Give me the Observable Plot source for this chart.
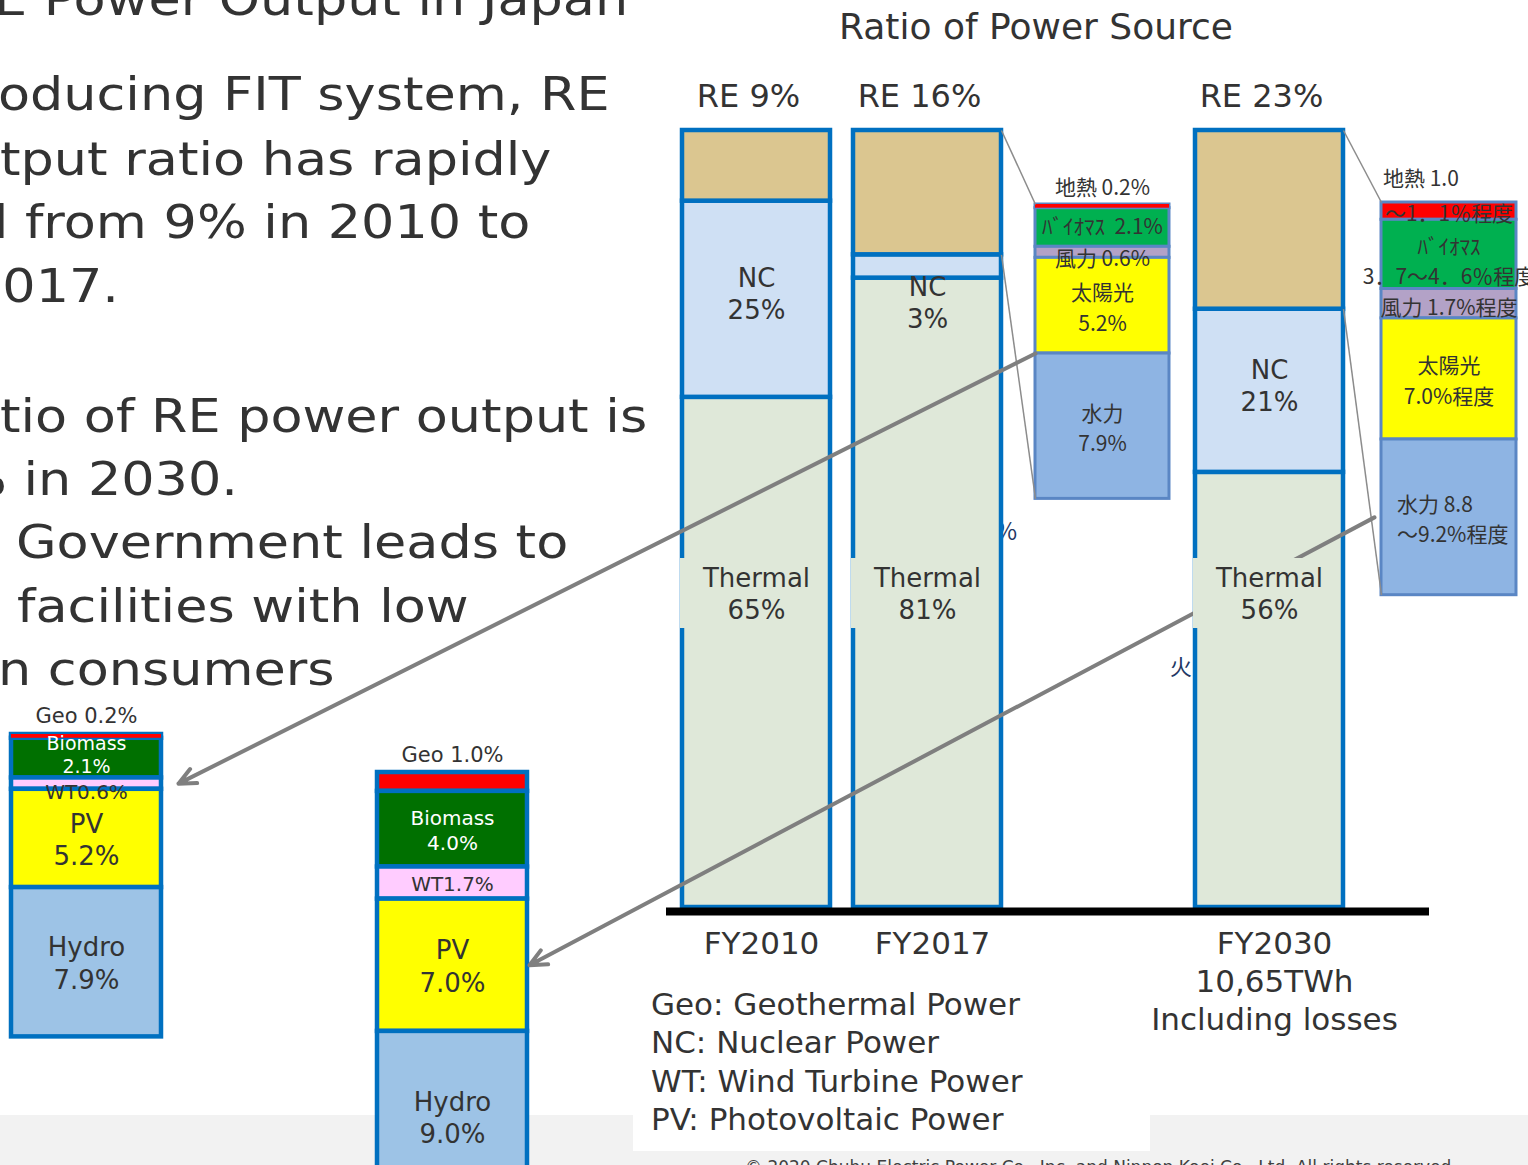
<!DOCTYPE html>
<html>
<head>
<meta charset="utf-8">
<script src="https://cdn.jsdelivr.net/npm/d3@7"></script>
<script src="https://cdn.jsdelivr.net/npm/@observablehq/plot@0.6"></script>
<style>
  html, body { margin: 0; padding: 0; background: #fff; }
  #page { position: relative; width: 1528px; height: 1165px; overflow: hidden; background: #fff; font-family: "DejaVu Sans", sans-serif; }
  .txt { position: absolute; white-space: pre; color: #333; }
</style>
</head>
<body>
<div id="page"></div>
<script>
// ---------------- DATA ----------------
const years = ["FY2010", "FY2017", "FY2030"];
const sources = ["Thermal", "NC", "RE"];          // bottom -> top
const thermal = [65, 81, 56];
const nuclear = [25, 3, 21];
const renewable = [9, 16, 23];
const thermalLabels = ["Thermal\n65%", "Thermal\n81%", "Thermal\n56%"];
const nuclearLabels = ["NC\n25%", "NC\n3%", "NC\n21%"];
const reLabels = ["RE 9%", "RE 16%", "RE 23%"];
const yearTickLabels = ["FY2010", "FY2017", "FY2030\n10,65TWh\nIncluding losses"];

const reTypes = ["Geo", "Biomass", "WT", "PV", "Hydro"];   // top -> bottom
const re2017 = [0.2, 2.1, 0.6, 5.2, 7.9];
const re2030 = [1.0, 4.0, 1.7, 7.0, 9.0];
const enInner2017 = [null, "Biomass\n2.1%", "WT0.6%", "PV\n5.2%", "Hydro\n7.9%"];
const enInner2030 = [null, "Biomass\n4.0%", "WT1.7%", "PV\n7.0%", "Hydro\n9.0%"];
const enGeo2017 = "Geo 0.2%";
const enGeo2030 = "Geo 1.0%";
const jpInner2017 = [null, "ﾊﾞｲｵﾏｽ  2.1%", "風力 0.6%", "太陽光\n5.2%", "水力\n7.9%"];
const jpInner2030 = ["～1．1％程度", "ﾊﾞｲｵﾏｽ\n3．7～4．6％程度", "風力 1.7%程度", "太陽光\n7.0%程度", "水力 8.8\n～9.2%程度"];
const jpGeo2017 = "地熱 0.2%";
const jpGeo2030 = "地熱 1.0";

const chartTitle = "Ratio of Power Source";
const bodyLines = ["E Power Output in Japan", "oducing FIT system, RE", "tput ratio has rapidly",
  "d from 9% in 2010 to", "2017.", "tio of RE power output is", "% in 2030.",
  "Government leads to", "facilities with low", "n consumers"];
const legendLines = ["Geo: Geothermal Power", "NC: Nuclear Power", "WT: Wind Turbine Power", "PV: Photovoltaic Power"];
const footerText = "© 2020 Chubu Electric Power Co., Inc. and Nippon Koei Co., Ltd. All rights reserved.";
const hiddenGlyphs = ["%", "火"];   // fragments of the underlying Japanese chart peeking out

// ---------------- HELPERS ----------------
const page = document.getElementById("page");
const W = 1528, H = 1165;
const FONT = "DejaVu Sans";
const JFONT = "Noto Sans CJK JP";
const PLOT_STYLE = "background:transparent;overflow:visible;max-width:none;display:block;";

function place(el, left, top, w, h) {
  const d = document.createElement("div");
  d.style.cssText = `position:absolute;left:${left}px;top:${top}px;width:${w}px;height:${h}px;`;
  d.appendChild(el);
  page.appendChild(d);
  return d;
}
function box(left, top, w, h, bg) {
  const d = document.createElement("div");
  d.style.cssText = `position:absolute;left:${left}px;top:${top}px;width:${w}px;height:${h}px;background:${bg};`;
  page.appendChild(d);
}
function addText(txt, left, top, css) {
  const d = document.createElement("div");
  d.className = "txt";
  d.textContent = txt;
  d.style.left = left + "px";
  d.style.top = top + "px";
  d.style.cssText += css;
  page.appendChild(d);
  return d;
}
function scaleFn(plot, name) {
  const s = plot.scale(name);
  if (typeof s.apply === "function") return {f: v => s.apply(v), bw: s.bandwidth || 0};
  if (s.type === "band") {
    const b = d3.scaleBand(s.domain, s.range).paddingInner(s.paddingInner).paddingOuter(s.paddingOuter).align(s.align);
    return {f: b, bw: b.bandwidth()};
  }
  return {f: d3.scaleLinear(s.domain, s.range), bw: 0};
}

// ---------------- BACKGROUND ----------------
box(0, 1115, W, 50, "#F2F2F2");
box(633, 1100, 517, 51, "#FFFFFF");

// ---------------- BODY TEXT ----------------
const bodyPos = [[-6, 15], [-2, 110], [0, 175], [-25, 238], [-31, 302], [0, 432], [-43, 495], [16, 558], [17, 622], [-2, 685]];
bodyLines.forEach((t, i) => {
  const [x, base] = bodyPos[i];
  addText(t, x, base - 48.3, `font-family:"${FONT}";font-size:47px;line-height:64px;transform:scaleX(1.115);transform-origin:0 0;color:#333;`);
});

// title
addText(chartTitle, 736, 6, `font-family:"${FONT}";font-size:36px;line-height:42px;width:600px;text-align:center;color:#333;`);

// glyph fragments behind the bars
addText(hiddenGlyphs[0], 995, 515, `font-family:"${JFONT}";font-size:24px;line-height:30px;color:#1F3864;`);
addText(hiddenGlyphs[1], 1170, 650, `font-family:"${JFONT}";font-size:22px;line-height:30px;color:#1F3864;`);

// ---------------- MAIN STACKED BARS ----------------
const mainRows = years.flatMap((y, i) => [
  {year: y, source: "Thermal", value: thermal[i], label: thermalLabels[i]},
  {year: y, source: "NC", value: nuclear[i], label: nuclearLabels[i]},
  {year: y, source: "RE", value: renewable[i], label: null}
]);
const xDomain = ["FY2010", "FY2017", "", "FY2030"];
const stackBase = {x: "year", y: "value", z: "source", order: sources, offset: "normalize"};
const barFills = ["#DFE8D9", "#CFE0F4", "#DBC690"];

function mainPlot(marks) {
  return Plot.plot({
    width: W, height: H,
    marginLeft: 666, marginRight: 99, marginTop: 130, marginBottom: 258,
    style: PLOT_STYLE,
    x: {domain: xDomain, range: [657, 1368], padding: 0.134, axis: null},
    y: {domain: [0, 1], axis: null},
    color: {domain: sources, range: barFills},
    marks
  });
}

const main = mainPlot([
  Plot.barY(mainRows, Plot.stackY({...stackBase, fill: "source", stroke: "#0070C0", strokeWidth: 4.5})),
  Plot.text(years, {x: d => d, frameAnchor: "top", text: (d, i) => reLabels[i], dy: -46, dx: -8,
    fontSize: 32, fontFamily: FONT, fill: "#333"}),
  Plot.ruleY([0], {stroke: "#000", strokeWidth: 8, dy: 4}),
  Plot.axisX({tickSize: 0, tickPadding: 20, dx: 5, fontSize: 31, lineHeight: 1.226, fontFamily: FONT, color: "#333",
    label: null, tickFormat: d => d ? yearTickLabels[years.indexOf(d)] : ""})
]);
place(main, 0, 0, W, H);

// ---------------- BREAKDOWN STACKS ----------------
function makeStack(cfg) {
  const rows = reTypes.map((t, i) => ({type: t, value: cfg.values[i], inner: cfg.inner[i]}));
  const total = d3.sum(cfg.values);
  const order = [...reTypes].reverse();   // Hydro at the bottom
  const width = cfg.mL + cfg.barW + cfg.mR;
  const height = cfg.mT + cfg.k * total + cfg.mB;
  const base = {x: () => "s", y: "value", z: "type", order};
  const startTypes = cfg.startTypes || [];
  const dyBy = cfg.dy || {}, lhBy = cfg.lhBy || {};
  const marks = [
    Plot.barY(rows, Plot.stackY({...base, fill: d => cfg.colors[d.type], stroke: cfg.stroke, strokeWidth: cfg.sw})),
    Plot.barY(rows, Plot.stackY({...base, fill: d => d.value < 0.5 ? cfg.colors[d.type] : "transparent"})),
    ...reTypes.map(t => Plot.text(rows, Plot.stackY({...base,
      text: d => d.type === t ? d.inner : null,
      dy: dyBy[t] || 0,
      textAnchor: startTypes.includes(t) ? "start" : "middle",
      dx: startTypes.includes(t) ? cfg.startDx : 0,
      fill: cfg.ink[t] || "#333", fontSize: cfg.size[t] || cfg.defaultSize,
      lineHeight: lhBy[t] || cfg.lh, fontFamily: cfg.font}))),
    Plot.text(rows, Plot.stackY2({...base, text: d => d.type === "Geo" ? cfg.above : null,
      dy: cfg.aboveDy, dx: cfg.aboveDx || 0, textAnchor: cfg.aboveAnchor || "middle",
      fill: "#333", fontSize: cfg.aboveSize, fontFamily: cfg.font}))
  ];
  const plot = Plot.plot({
    width, height, marginLeft: cfg.mL, marginRight: cfg.mR, marginTop: cfg.mT, marginBottom: cfg.mB,
    style: PLOT_STYLE,
    x: {domain: ["s"], padding: 0, axis: null},
    y: {domain: [0, total], axis: null},
    color: {type: "identity"},
    marks
  });
  place(plot, cfg.left, cfg.top, width, height);
  const xs = scaleFn(plot, "x"), ys = scaleFn(plot, "y");
  const left = cfg.left + xs.f("s");
  const right = left + xs.bw;
  const bounds = {};
  let acc = 0;
  for (const t of order) {
    const v = cfg.values[reTypes.indexOf(t)];
    bounds[t] = {lo: cfg.top + ys.f(acc), hi: cfg.top + ys.f(acc + v), mid: cfg.top + ys.f(acc + v / 2)};
    acc += v;
  }
  return {left, right, top: cfg.top + ys.f(total), bottom: cfg.top + ys.f(0), bounds};
}

const jpColors = {Geo: "#FF0000", Biomass: "#00B050", WT: "#B3A2C7", PV: "#FFFF00", Hydro: "#8EB4E3"};
const enColors = {Geo: "#FF0000", Biomass: "#007000", WT: "#FFCCFF", PV: "#FFFF00", Hydro: "#9DC3E6"};

const jp17 = makeStack({
  values: re2017, inner: jpInner2017, above: jpGeo2017, colors: jpColors, ink: {}, size: {},
  defaultSize: 21, lh: 1.45, font: JFONT, stroke: "#5A86C4", sw: 3,
  dy: {Biomass: -3, WT: 4},
  k: 18.4, barW: 134, mL: 20, mR: 20, mT: 40, mB: 20, left: 1015, top: 164,
  aboveDy: -16, aboveSize: 21
});
const jp30 = makeStack({
  values: re2030, inner: jpInner2030, above: jpGeo2030, colors: jpColors, ink: {}, size: {},
  defaultSize: 21, lh: 1.45, font: JFONT, stroke: "#5A86C4", sw: 3,
  dy: {Biomass: 5, WT: 2},
  k: 17.3, barW: 135, mL: 20, mR: 20, mT: 40, mB: 20, left: 1361, top: 162,
  aboveDy: -23, aboveDx: -66, aboveAnchor: "start", aboveSize: 21,
  startTypes: ["Hydro"], startDx: -52
});
const en17 = makeStack({
  values: re2017, inner: enInner2017, above: enGeo2017, colors: enColors,
  ink: {Biomass: "#FFFFFF"}, size: {PV: 26, Hydro: 26, Biomass: 19},
  defaultSize: 20, lh: 1.24, font: FONT, stroke: "#0070C0", sw: 4.5,
  dy: {Biomass: -4, WT: 7}, lhBy: {Biomass: 1.2},
  k: 18.9, barW: 150, mL: 11, mR: 14, mT: 40, mB: 10, left: 0, top: 694,
  aboveDy: -18, aboveSize: 21
});
const en30 = makeStack({
  values: re2030, inner: enInner2030, above: enGeo2030, colors: enColors,
  ink: {Biomass: "#FFFFFF"}, size: {PV: 26, Hydro: 26},
  defaultSize: 20, lh: 1.24, font: FONT, stroke: "#0070C0", sw: 4.5,
  k: 18.9, barW: 150, mL: 20, mR: 20, mT: 40, mB: 10, left: 357, top: 732,
  aboveDy: -17, aboveSize: 21
});

// ---------------- LEGEND & FOOTER TEXT ----------------
legendLines.forEach((t, i) => {
  addText(t, 651, 985 + i * 38.3, `font-family:"${FONT}";font-size:31px;line-height:38px;color:#333;`);
});
addText(footerText, 745, 1157, `font-family:"${FONT}";font-size:17px;line-height:20px;color:#404040;`);

// ---------------- CONNECTORS & ARROWS (overlay) ----------------
const mx = scaleFn(main, "x"), my = scaleFn(main, "y");
const reLow = i => (thermal[i] + nuclear[i]) / (thermal[i] + nuclear[i] + renewable[i]);
const barRight = y => mx.f(y) + mx.bw;
const connectors = [
  {x1: barRight("FY2017"), y1: my.f(1), x2: jp17.left, y2: jp17.top},
  {x1: barRight("FY2017"), y1: my.f(reLow(1)), x2: jp17.left, y2: jp17.bottom},
  {x1: barRight("FY2030"), y1: my.f(1), x2: jp30.left, y2: jp30.top},
  {x1: barRight("FY2030"), y1: my.f(reLow(2)), x2: jp30.left, y2: jp30.bottom}
];
const arrows = [
  {x1: jp17.left, y1: jp17.bounds.Hydro.hi, x2: en17.right + 17, y2: en17.bounds.WT.mid},
  {x1: jp30.left - 7, y1: jp30.bounds.Hydro.mid, x2: en30.right + 2, y2: en30.bounds.PV.mid}
];
const overlay = Plot.plot({
  width: W, height: H, margin: 0,
  style: PLOT_STYLE,
  x: {type: "identity", axis: null},
  y: {type: "identity", axis: null},
  marks: [
    Plot.link(connectors, {x1: "x1", y1: "y1", x2: "x2", y2: "y2", stroke: "#8C8C8C", strokeWidth: 1.5}),
    Plot.arrow(arrows, {x1: "x1", y1: "y1", x2: "x2", y2: "y2", stroke: "#7F7F7F", strokeWidth: 4,
      headLength: 7, headAngle: 50, bend: 0})
  ]
});
place(overlay, 0, 0, W, H);

// ---------------- BAR LABELS (above the arrows, with label boxes) ----------------
const labels = mainPlot([
  Plot.barY(years, {x: d => d, y1: () => 0, y2: () => 0, insetTop: -349, insetBottom: 279,
    insetLeft: -2, insetRight: 5, fill: barFills[0]}),
  Plot.text(mainRows, Plot.stackY1({...stackBase, text: d => d.source === "Thermal" ? d.label : null,
    dy: -315, fontSize: 26, lineHeight: 1.23, fontFamily: FONT, fill: "#333"})),
  Plot.text(mainRows, Plot.stackY({...stackBase, text: d => d.source === "NC" && d.year !== "FY2017" ? d.label : null,
    dy: -6, fontSize: 26, lineHeight: 1.23, fontFamily: FONT, fill: "#333"})),
  Plot.text(mainRows, Plot.stackY({...stackBase, text: d => d.source === "NC" && d.year === "FY2017" ? d.label : null,
    dy: 35, fontSize: 26, lineHeight: 1.23, fontFamily: FONT, fill: "#333"}))
]);
place(labels, 0, 0, W, H);
</script>
</body>
</html>
